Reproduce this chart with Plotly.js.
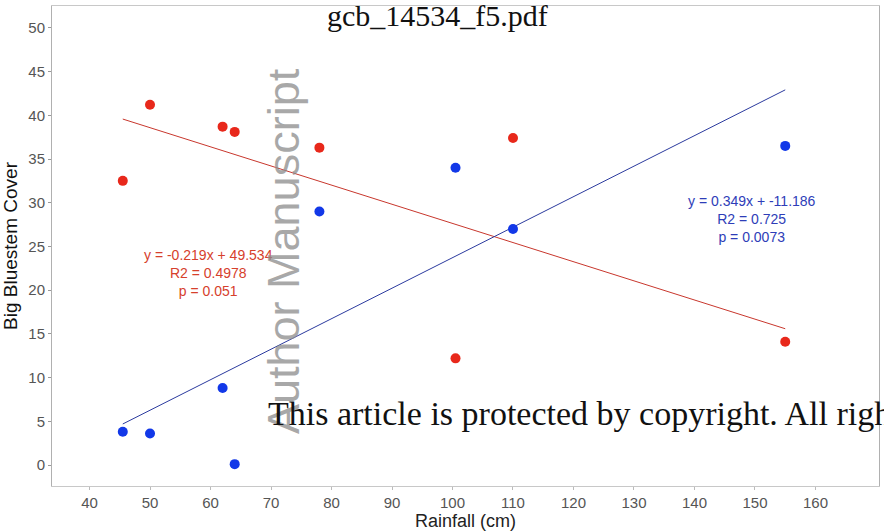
<!DOCTYPE html>
<html>
<head>
<meta charset="utf-8">
<script src="https://cdn.plot.ly/plotly-3.0.1.min.js"></script>
<style>html,body{margin:0;padding:0;background:#fff;overflow:hidden}</style>
</head>
<body>
<div id="chart" style="width:884px;height:531px"></div>
<script>
// Rainfall (cm) for each site-year
const rainfall = [45.5, 50, 62, 64, 78, 100.5, 110, 155];
// Red series values
const redCover = [32.5, 41.2, 38.7, 38.1, 36.3, 12.2, 37.4, 14.1];
// Blue series values
const blueCover = [3.8, 3.6, 8.8, 0.1, 29.0, 34.0, 27.0, 36.5];
// Fitted regression parameters
const redFit = {slope: -0.219, intercept: 49.534};
const blueFit = {slope: 0.349, intercept: -11.186};
const redStats = ["y = -0.219x + 49.534", "R2 = 0.4978", "p = 0.051"];
const blueStats = ["y = 0.349x + -11.186", "R2 = 0.725", "p = 0.0073"];
const xTicks = [40, 50, 60, 70, 80, 90, 100, 110, 120, 130, 140, 150, 160];
const yTicks = [0, 5, 10, 15, 20, 25, 30, 35, 40, 45, 50];

const xmin = Math.min(...rainfall), xmax = Math.max(...rainfall);
const fitLine = f => ({x: [xmin, xmax], y: [f.slope * xmin + f.intercept, f.slope * xmax + f.intercept]});

const redLine = fitLine(redFit), blueLine = fitLine(blueFit);

const traces = [
  {x: redLine.x, y: redLine.y, mode: 'lines', line: {color: '#c8372d', width: 1}, hoverinfo: 'skip'},
  {x: blueLine.x, y: blueLine.y, mode: 'lines', line: {color: '#2b3a9e', width: 1}, hoverinfo: 'skip'},
  {x: rainfall, y: redCover, mode: 'markers', marker: {color: '#e8281b', size: 10}},
  {x: rainfall, y: blueCover, mode: 'markers', marker: {color: '#1238e8', size: 10}}
];

const layout = {
  width: 884, height: 531,
  margin: {l: 52, r: 5, t: 6, b: 45},
  paper_bgcolor: '#fff', plot_bgcolor: '#fff',
  showlegend: false,
  font: {family: 'Liberation Sans, Arial, sans-serif', color: '#555'},
  xaxis: {
    range: [33.8, 170.5], tickvals: xTicks, showgrid: false, zeroline: false,
    showline: true, mirror: true, linecolor: '#c8c8c8', linewidth: 1,
    ticks: 'outside', ticklen: 3, tickcolor: '#bbb',
    tickfont: {size: 15, color: '#555'},
    title: {text: 'Rainfall (cm)', font: {size: 18, color: '#222'}, standoff: 2}
  },
  yaxis: {
    range: [-2.4, 52.5], tickvals: yTicks, showgrid: false, zeroline: false,
    showline: true, mirror: true, linecolor: '#b0b0b0', linewidth: 1,
    ticks: 'outside', ticklen: 3, tickcolor: '#999',
    tickfont: {size: 15, color: '#555'},
    title: {text: 'Big Bluestem Cover', font: {size: 19, color: '#111'}, standoff: 8}
  },
  annotations: [
    {xref: 'paper', yref: 'paper', x: (208 - 52) / 827, y: (486 - 273) / 480, text: redStats.join('<br>'),
     showarrow: false, xanchor: 'center', yanchor: 'middle', align: 'center',
     font: {size: 14, color: '#d6402c'}},
    {xref: 'paper', yref: 'paper', x: (752 - 52) / 827, y: (486 - 219) / 480, text: blueStats.join('<br>'),
     showarrow: false, xanchor: 'center', yanchor: 'middle', align: 'center',
     font: {size: 14, color: '#2e3db8'}},
    {xref: 'paper', yref: 'paper', x: (283 - 52) / 827, y: (486 - 251) / 480, text: 'Author Manuscript',
     showarrow: false, textangle: -90, xanchor: 'center', yanchor: 'middle',
     font: {size: 45, color: 'rgba(140,140,140,0.75)'}},
    {xref: 'paper', yref: 'paper', x: (437 - 52) / 827, y: (486 - 15) / 480, text: 'gcb_14534_f5.pdf',
     showarrow: false, xanchor: 'center', yanchor: 'middle',
     font: {size: 30, color: '#111', family: 'Liberation Serif, serif'}},
    {xref: 'paper', yref: 'paper', x: (266 - 52) / 827, y: (486 - 413) / 480, text: 'This article is protected by copyright. All rights reserved',
     showarrow: false, xanchor: 'left', yanchor: 'middle',
     font: {size: 34, color: '#111', family: 'Liberation Serif, serif'}}
  ]
};

Plotly.newPlot('chart', traces, layout, {displayModeBar: false, staticPlot: true});
</script>
</body>
</html>
